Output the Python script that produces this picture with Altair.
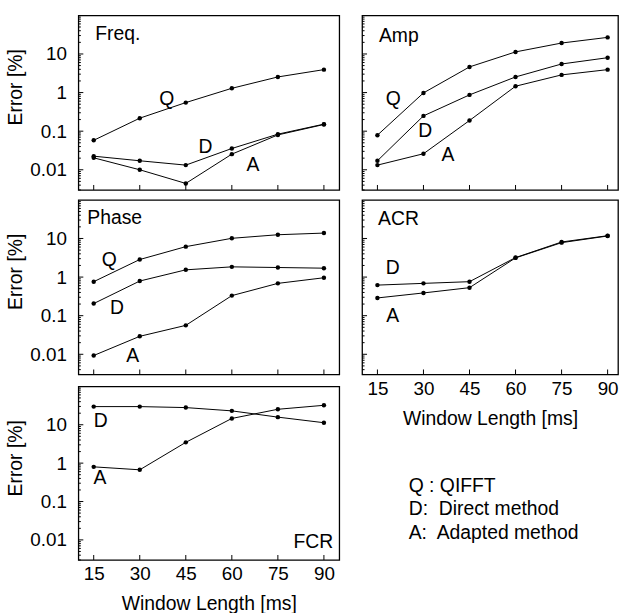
import altair as alt
import pandas as pd

FONT = "Liberation Sans"

x_ms = [15, 30, 45, 60, 75, 90]

freq_Q = [0.058, 0.217, 0.55, 1.29, 2.54, 3.93]
freq_D = [0.0225, 0.0171, 0.0132, 0.0356, 0.0836, 0.152]
freq_A = [0.0204, 0.0100, 0.00443, 0.0254, 0.080, 0.149]
amp_Q = [0.0788, 0.98, 4.62, 11.3, 19.2, 26.9]
amp_D = [0.0171, 0.249, 0.87, 2.54, 5.5, 8.0]
amp_A = [0.0132, 0.026, 0.189, 1.46, 2.87, 3.93]
phase_Q = [0.76, 2.85, 6.14, 10.1, 12.5, 13.8]
phase_D = [0.206, 0.79, 1.54, 1.84, 1.77, 1.70]
phase_A = [0.0093, 0.0292, 0.0561, 0.331, 0.687, 0.96]
acr_D = [0.62, 0.687, 0.76, 3.2, 8.1, 11.8]
acr_A = [0.288, 0.388, 0.532, 3.14, 7.8, 11.6]
fcr_D = [29.7, 29.7, 28.0, 23.0, 15.8, 11.3]
fcr_A = [0.80, 0.67, 3.48, 14.6, 25.3, 32.1]

y_major = [0.01, 0.1, 1, 10]
y_minor = [m * d for d in [0.001, 0.01, 0.1, 1, 10] for m in range(2, 10) if 0.003 <= m * d <= 100]

# annotation letters: (letter, x in ms, y value)
ann_freq = [("Q", 38.8, 0.66), ("D", 51.4, 0.038), ("A", 66.9, 0.013)]
ann_amp = [("Q", 20.2, 0.67), ("D", 30.6, 0.102), ("A", 38.0, 0.024)]
ann_phase = [("Q", 20.1, 2.8), ("D", 22.6, 0.16), ("A", 27.7, 0.0088)]
ann_acr = [("D", 20.0, 1.70), ("A", 20.0, 0.098)]
ann_fcr = [("D", 17.3, 12.2), ("A", 17.0, 0.42)]

legend_lines = ["Q : QIFFT", "D:\u00a0 Direct method", "A:\u00a0 Adapted method"]

H = 176
W_LEFT = 263
W_RIGHT = 258
FS = 19.5


def panel(series, label, lab_x, lab_y, lab_align, ann, width, xmax, show_x, show_y, h=H):
    rows = []
    for s, vals in series.items():
        for xv, yv in zip(x_ms, vals):
            rows.append({"s": s, "x": xv, "y": yv})
    df = pd.DataFrame(rows)
    xs = alt.Scale(domain=[10, xmax], nice=False, zero=False)
    ys = alt.Scale(type="log", domain=[0.003, 100], nice=False)
    if show_x:
        xaxis = alt.Axis(values=x_ms, ticks=False, domain=False, grid=False,
                         labelPadding=5, titlePadding=11, title="Window Length [ms]")
    else:
        xaxis = None
    if show_y:
        yaxis = alt.Axis(values=y_major, ticks=False, domain=False, grid=False, format="~g",
                         labelPadding=12, titlePadding=4, title="Error [%]", titleY=72)
    else:
        yaxis = None

    X = alt.X("x:Q", scale=xs, axis=xaxis)
    Y = alt.Y("y:Q", scale=ys, axis=yaxis)

    lines = alt.Chart(df).mark_line(color="black", strokeWidth=1).encode(x=X, y=Y, detail="s:N")
    pts = alt.Chart(df).mark_circle(color="black", size=20, opacity=1).encode(x=X, y=Y)

    xt = alt.Chart(pd.DataFrame({"x": x_ms})).mark_rule(color="black", strokeWidth=1).encode(
        x=X, y=alt.value(h), y2=alt.value(h - 5))
    ymaj = alt.Chart(pd.DataFrame({"y": y_major})).mark_rule(color="black", strokeWidth=1).encode(
        y=Y, x=alt.value(0), x2=alt.value(5))
    ymin = alt.Chart(pd.DataFrame({"y": y_minor})).mark_rule(color="black", strokeWidth=1).encode(
        y=Y, x=alt.value(0), x2=alt.value(2.5))

    adf = pd.DataFrame([{"t": t, "x": a, "y": b} for t, a, b in ann])
    ann_t = alt.Chart(adf).mark_text(font=FONT, fontSize=FS, color="black").encode(
        x=X, y=Y, text="t:N")
    ldf = pd.DataFrame([{"t": label, "x": lab_x, "y": lab_y}])
    lab_t = alt.Chart(ldf).mark_text(font=FONT, fontSize=FS, color="black", align=lab_align,
                                     baseline="middle").encode(x=X, y=Y, text="t:N")
    return alt.layer(lines, pts, xt, ymaj, ymin, ann_t, lab_t).properties(width=width, height=h)


freq = panel({"Q": freq_Q, "D": freq_D, "A": freq_A}, "Freq.", 15.5, 32.6, "left", ann_freq,
             W_LEFT, 95, False, True)
phase = panel({"Q": phase_Q, "D": phase_D, "A": phase_A}, "Phase", 12.9, 32.9, "left", ann_phase,
              W_LEFT, 95, False, True)
fcr = panel({"D": fcr_D, "A": fcr_A}, "FCR", 93.0, 0.0089, "right", ann_fcr,
            W_LEFT, 95, True, True, h=175)
XMAX_R = 10 + W_RIGHT / (W_LEFT / 85)
amp = panel({"Q": amp_Q, "D": amp_D, "A": amp_A}, "Amp", 15.5, 30, "left", ann_amp,
            W_RIGHT, XMAX_R, False, False)
acr = panel({"D": acr_D, "A": acr_A}, "ACR", 15.2, 31, "left", ann_acr,
            W_RIGHT, XMAX_R, True, False)

legend = alt.Chart(pd.DataFrame({"a": [0]})).mark_text(
    font=FONT, fontSize=FS, align="left", baseline="middle", lineHeight=23.7, color="black"
).encode(x=alt.value(47), y=alt.value(47), text=alt.value(legend_lines)).properties(
    width=W_RIGHT, height=100, view=alt.ViewBackground(strokeOpacity=0))

left = alt.vconcat(alt.vconcat(freq, phase, spacing=7), fcr, spacing=9)
right = alt.vconcat(alt.vconcat(amp, acr, spacing=7), legend, spacing=10)

chart = alt.hconcat(left, right, spacing=20).properties(
    padding={"left": 5, "top": 12, "right": 0, "bottom": 0}, background="white"
).configure_view(stroke="black", strokeWidth=1.3).configure_axis(
    labelFont=FONT, titleFont=FONT, labelFontSize=19, titleFontSize=FS,
    labelColor="black", titleColor="black", titleFontWeight="normal"
)

chart.save("out.html", embed_options={"renderer": "svg", "actions": False})
